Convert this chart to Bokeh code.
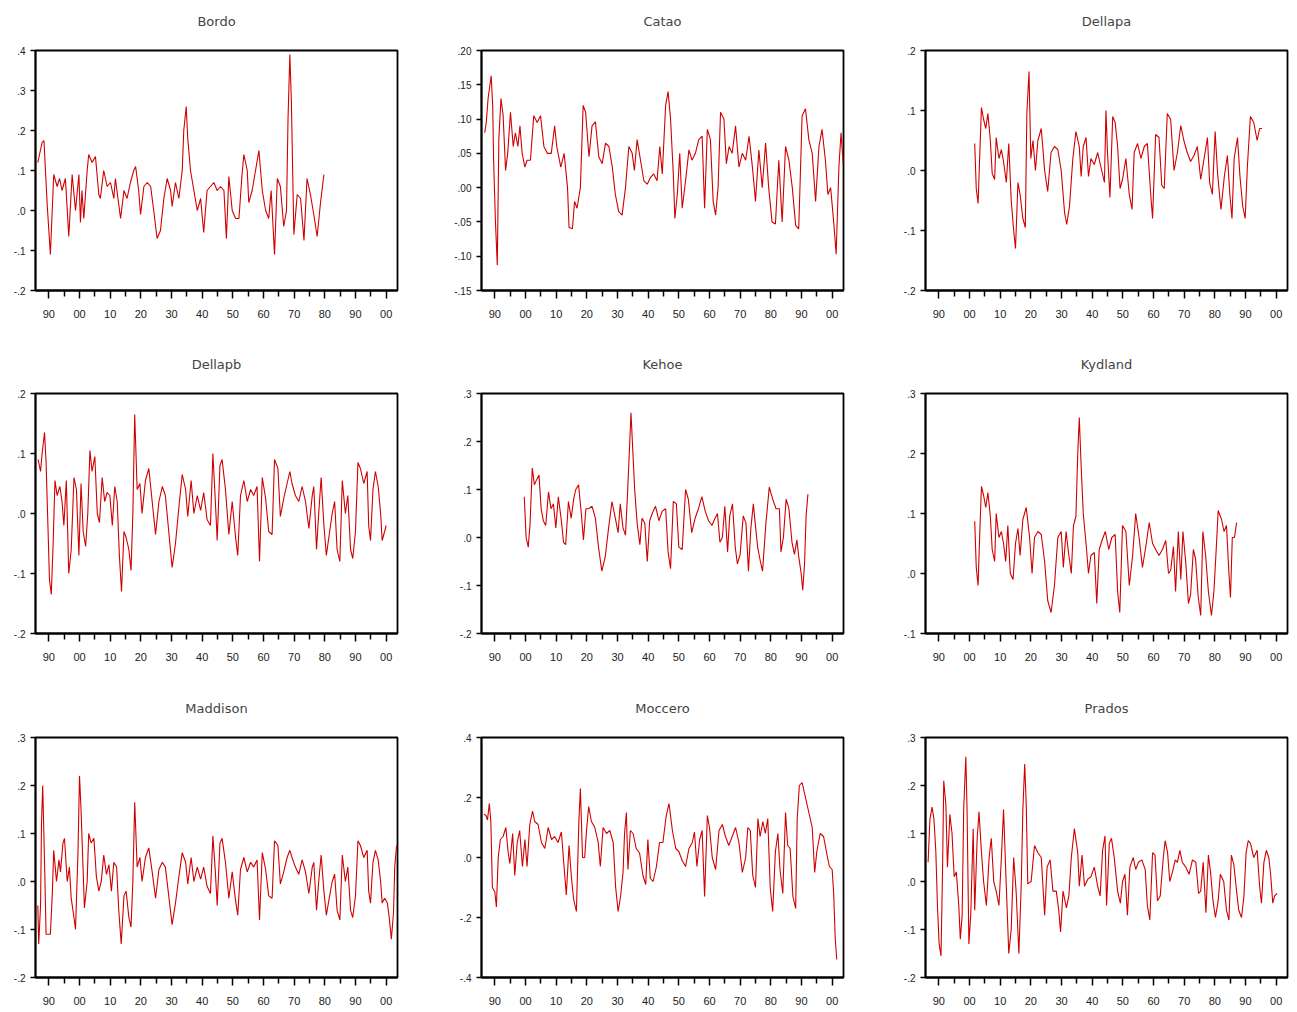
from bokeh.plotting import figure
from bokeh.models import Range1d, FixedTicker, CustomJSTickFormatter, LinearAxis
from bokeh.layouts import gridplot
from bokeh.embed import file_html
from bokeh.resources import INLINE

# values (year, growth rate)
bordo_x = [1886.4, 1887.8, 1888.4, 1889.5, 1890.5, 1891.6, 1892.7, 1893.5, 1894.3, 1895.4,
           1896.5, 1897.6, 1898.7, 1899.8, 1900.3, 1900.8, 1901.4, 1902.5, 1903.0, 1904.1,
           1905.2, 1906.3, 1906.8, 1907.9, 1909.0, 1910.1, 1911.2, 1911.7, 1913.4, 1914.5,
           1915.5, 1916.6, 1917.7, 1918.3, 1919.3, 1919.9, 1921.0, 1922.1, 1923.2, 1924.2,
           1925.3, 1926.4, 1927.5, 1928.6, 1929.7, 1930.2, 1931.3, 1932.4, 1933.5, 1934.0,
           1934.8, 1935.3, 1936.2, 1937.3, 1938.4, 1939.5, 1940.5, 1941.6, 1942.7, 1943.8,
           1944.9, 1946.0, 1947.1, 1947.9, 1948.7, 1949.8, 1950.9, 1952.0, 1953.0, 1953.6,
           1954.7, 1955.2, 1956.3, 1957.4, 1958.5, 1959.6, 1960.7, 1961.7, 1962.5, 1963.6,
           1964.5, 1965.5, 1966.6, 1967.5, 1968.0, 1968.6, 1969.1, 1969.9, 1971.0, 1972.1,
           1973.2, 1974.2, 1975.3, 1976.4, 1977.5, 1978.6, 1979.7]
bordo_y = [0.12, 0.17, 0.175, 0.01, -0.11, 0.09, 0.06, 0.08, 0.05, 0.08,
           -0.065, 0.09, 0.0, 0.09, -0.03, 0.05, -0.02, 0.10, 0.14, 0.12,
           0.135, 0.04, 0.03, 0.10, 0.06, 0.07, 0.03, 0.08, -0.02, 0.05,
           0.03, 0.07, 0.10, 0.11, 0.05, -0.01, 0.06, 0.07, 0.06, 0.0,
           -0.07, -0.05, 0.03, 0.08, 0.05, 0.01, 0.07, 0.03, 0.10, 0.20,
           0.26, 0.18, 0.10, 0.05, 0.0, 0.03, -0.055, 0.05, 0.06, 0.07,
           0.05, 0.06, 0.05, -0.07, 0.085, 0.0, -0.02, -0.02, 0.09, 0.14,
           0.10, 0.02, 0.05, 0.10, 0.15, 0.05, 0.0, -0.02, 0.05, -0.11,
           0.08, 0.06, -0.04, 0.0, 0.23, 0.39, 0.27, -0.06, 0.04, 0.03,
           -0.075, 0.08, 0.04, -0.01, -0.065, 0.02, 0.09]

catao_x = [1886.7, 1887.2, 1887.8, 1888.4, 1888.8, 1889.3, 1889.6, 1890.2, 1890.8, 1891.3,
           1892.0, 1892.7, 1893.5, 1894.2, 1895.1, 1896.0, 1896.7, 1897.5, 1898.2, 1898.9,
           1899.8, 1900.5, 1901.6, 1902.7, 1903.8, 1904.9, 1906.0, 1907.1, 1908.4, 1909.5,
           1910.2, 1911.5, 1912.6, 1913.7, 1914.2, 1915.3, 1916.0, 1916.8, 1917.9, 1918.8,
           1919.6, 1920.7, 1921.7, 1922.8, 1923.9, 1925.0, 1926.1, 1927.2, 1928.3, 1929.3,
           1930.4, 1931.5, 1932.6, 1933.7, 1934.8, 1935.5, 1936.4, 1937.5, 1938.6, 1939.7,
           1940.8, 1941.8, 1942.9, 1943.8, 1944.6, 1945.7, 1946.5, 1947.3, 1948.2, 1948.7,
           1949.5, 1950.3, 1951.1, 1952.2, 1953.3, 1954.3, 1955.4, 1956.5, 1957.6, 1958.4,
           1959.3, 1960.3, 1961.2, 1962.0, 1962.8, 1963.6, 1964.7, 1965.5, 1966.4, 1967.4,
           1968.5, 1969.6, 1970.7, 1971.8, 1972.9, 1974.0, 1975.0, 1976.1, 1977.2, 1978.3,
           1979.3, 1980.4, 1981.5, 1982.6, 1983.7, 1984.8, 1985.9, 1987.0, 1988.1, 1989.1,
           1990.2, 1991.3, 1992.4, 1993.5, 1994.6, 1995.7, 1996.7, 1997.8, 1998.6, 1999.5,
           2000.5, 2001.3, 2002.2, 2002.9, 2003.6]
catao_y = [0.08, 0.095, 0.13, 0.15, 0.163, 0.12, 0.04, -0.05, -0.113, 0.07,
           0.13, 0.105, 0.025, 0.05, 0.11, 0.06, 0.08, 0.06, 0.09, 0.05,
           0.03, 0.04, 0.04, 0.105, 0.095, 0.105, 0.06, 0.05, 0.05, 0.09,
           0.06, 0.03, 0.05, 0.0, -0.058, -0.06, -0.02, -0.03, 0.0, 0.12,
           0.11, 0.045, 0.09, 0.096, 0.045, 0.035, 0.065, 0.06, 0.03, -0.01,
           -0.035, -0.04, 0.0, 0.06, 0.05, 0.025, 0.07, 0.04, 0.01, 0.005,
           0.015, 0.02, 0.01, 0.06, 0.02, 0.12, 0.14, 0.10, 0.02, -0.045,
           -0.01, 0.05, -0.03, 0.01, 0.055, 0.04, 0.05, 0.07, 0.075, -0.03,
           0.085, 0.07, -0.02, -0.04, 0.0, 0.11, 0.10, 0.035, 0.06, 0.05,
           0.09, 0.03, 0.05, 0.04, 0.075, 0.03, -0.02, 0.055, 0.0, 0.065,
           0.0, -0.05, -0.053, 0.04, -0.05, 0.06, 0.04, 0.0, -0.055, -0.06,
           0.105, 0.115, 0.07, 0.05, -0.02, 0.06, 0.085, 0.04, -0.01, 0.0,
           -0.05, -0.097, 0.03, 0.08, 0.035]

dellapa_x = [1901.7, 1902.2, 1902.8, 1903.3, 1903.9, 1904.6, 1905.3, 1906.0, 1906.8, 1907.4,
             1908.2, 1908.7, 1909.6, 1910.4, 1911.1, 1912.0, 1912.8, 1913.6, 1914.4, 1915.0,
             1915.8, 1916.5, 1917.4, 1918.2, 1918.7, 1919.4, 1920.0, 1920.7, 1921.5, 1922.3,
             1923.4, 1924.5, 1925.5, 1926.6, 1927.7, 1928.8, 1929.9, 1931.0, 1931.7, 1932.6,
             1933.7, 1934.7, 1935.8, 1936.4, 1937.1, 1938.0, 1938.8, 1939.6, 1940.7, 1941.8,
             1942.9, 1944.0, 1944.5, 1945.0, 1945.8, 1946.7, 1947.5, 1948.3, 1949.1, 1949.9,
             1951.0, 1952.1, 1953.0, 1953.7, 1954.8, 1955.9, 1957.0, 1958.0, 1959.1, 1959.7,
             1960.7, 1961.8, 1962.7, 1963.5, 1964.5, 1965.6, 1966.7, 1967.8, 1968.9, 1969.9,
             1971.0, 1972.1, 1973.2, 1974.3, 1975.4, 1976.5, 1977.6, 1978.3, 1979.2, 1980.1,
             1980.9, 1982.0, 1983.1, 1984.1, 1984.9, 1985.6, 1986.3, 1987.4, 1988.2, 1989.1,
             1989.9, 1990.6, 1991.6, 1992.7, 1993.8, 1994.6, 1995.4]
dellapa_y = [0.045, -0.03, -0.055, 0.02, 0.105, 0.085, 0.07, 0.095, 0.05, -0.005,
             -0.015, 0.055, 0.02, 0.035, 0.015, -0.02, 0.045, -0.05, -0.10, -0.13,
             -0.02, -0.04, -0.08, -0.095, 0.095, 0.165, 0.02, 0.05, 0.0, 0.05,
             0.07, 0.0, -0.035, 0.03, 0.04, 0.035, 0.0, -0.07, -0.09, -0.06,
             0.02, 0.065, 0.04, -0.01, 0.04, 0.055, -0.01, 0.02, 0.01, 0.03,
             0.005, -0.02, 0.10, 0.03, -0.045, 0.09, 0.08, 0.04, -0.03, -0.015,
             0.02, -0.04, -0.065, 0.03, 0.045, 0.02, 0.04, 0.045, -0.04, -0.08,
             0.06, 0.055, -0.025, -0.03, 0.095, 0.085, 0.0, 0.03, 0.075, 0.05,
             0.03, 0.015, 0.025, 0.04, -0.015, 0.02, 0.055, -0.02, -0.04, 0.065,
             -0.005, -0.065, -0.01, 0.025, -0.04, -0.08, 0.02, 0.055, -0.01, -0.06,
             -0.08, 0.005, 0.09, 0.08, 0.05, 0.07, 0.07]

dellapb_x = [1886.5, 1887.3, 1887.8, 1888.6, 1889.1, 1889.7, 1890.2, 1890.8, 1891.4, 1892.0,
             1892.7, 1893.6, 1894.3, 1894.9, 1895.7, 1896.5, 1897.3, 1898.2, 1899.0, 1899.8,
             1900.5, 1901.2, 1902.0, 1902.7, 1903.4, 1904.1, 1905.0, 1905.8, 1906.5, 1907.4,
             1908.2, 1909.0, 1909.9, 1910.7, 1911.5, 1912.3, 1913.0, 1913.7, 1914.5, 1915.2,
             1916.1, 1916.8, 1917.4, 1918.0, 1918.8, 1919.7, 1920.4, 1921.5, 1922.6, 1923.7,
             1924.8, 1925.9, 1927.0, 1928.0, 1929.1, 1930.2, 1931.3, 1932.4, 1933.5, 1934.6,
             1935.3, 1936.4, 1937.3, 1938.4, 1939.5, 1940.5, 1941.6, 1942.7, 1943.5, 1944.3,
             1944.9, 1945.8, 1946.5, 1947.6, 1948.7, 1949.8, 1950.9, 1951.6, 1952.5, 1953.6,
             1954.7, 1955.8, 1956.8, 1957.9, 1958.7, 1959.6, 1960.7, 1961.7, 1962.8, 1963.6,
             1964.7, 1965.5, 1966.6, 1967.7, 1968.6, 1969.3, 1970.4, 1971.5, 1972.6, 1973.7,
             1974.8, 1975.9, 1976.4, 1977.3, 1978.0, 1978.8, 1979.7, 1980.5, 1981.3, 1982.4,
             1983.2, 1984.0, 1984.9, 1985.7, 1986.7, 1987.5, 1988.4, 1989.1, 1990.0, 1990.8,
             1991.6, 1992.7, 1993.8, 1994.3, 1994.9, 1995.7, 1996.5, 1997.4, 1998.2, 1998.7,
             1999.5, 2000.0]
dellapb_y = [0.09, 0.07, 0.10, 0.135, 0.085, -0.02, -0.11, -0.135, -0.05, 0.055,
             0.03, 0.045, 0.02, -0.02, 0.055, -0.10, -0.06, 0.06, 0.04, -0.07,
             0.05, -0.03, -0.055, 0.0, 0.105, 0.07, 0.095, 0.0, -0.015, 0.06,
             0.02, 0.035, 0.03, -0.02, 0.045, 0.02, -0.07, -0.13, -0.03, -0.04,
             -0.06, -0.095, 0.0, 0.165, 0.04, 0.05, 0.0, 0.055, 0.075, 0.02,
             -0.035, 0.02, 0.045, 0.03, -0.03, -0.09, -0.05, 0.01, 0.065, 0.04,
             -0.005, 0.055, 0.0, 0.03, 0.005, 0.035, -0.01, -0.02, 0.10, 0.02,
             -0.045, 0.08, 0.09, 0.04, -0.035, 0.02, -0.04, -0.07, 0.03, 0.055,
             0.02, 0.04, 0.03, 0.045, -0.08, 0.06, 0.025, -0.03, -0.035, 0.09,
             0.075, -0.005, 0.025, 0.05, 0.07, 0.05, 0.03, 0.02, 0.045, 0.02,
             -0.025, 0.03, 0.045, -0.06, 0.0, 0.06, -0.02, -0.07, -0.04, 0.0,
             0.02, -0.06, -0.08, 0.055, 0.0, 0.03, -0.06, -0.075, -0.03, 0.085,
             0.075, 0.05, 0.07, -0.02, -0.045, 0.04, 0.07, 0.045, 0.0, -0.045,
             -0.03, -0.02]

kehoe_x = [1899.6, 1900.2, 1900.9, 1901.5, 1902.2, 1902.9, 1903.6, 1904.4, 1905.1, 1905.8,
           1906.6, 1907.5, 1908.3, 1909.1, 1909.9, 1910.7, 1911.6, 1912.4, 1913.1, 1914.0,
           1914.9, 1915.7, 1916.4, 1917.3, 1918.2, 1918.9, 1919.7, 1920.6, 1921.7, 1922.8,
           1923.8, 1924.9, 1926.0, 1927.1, 1928.2, 1929.3, 1930.2, 1930.9, 1931.8, 1932.6,
           1933.3, 1934.0, 1934.4, 1935.0, 1935.6, 1936.4, 1937.3, 1938.0, 1938.9, 1939.7,
           1940.5, 1941.3, 1942.4, 1943.5, 1944.6, 1945.7, 1946.5, 1947.3, 1948.2, 1949.2,
           1950.0, 1951.1, 1952.2, 1953.1, 1954.2, 1955.3, 1956.4, 1957.5, 1958.6, 1959.7,
           1960.8, 1961.8, 1962.6, 1963.4, 1964.2, 1965.0, 1965.9, 1966.6, 1967.5, 1968.4,
           1969.1, 1970.0, 1971.0, 1971.9, 1972.7, 1973.5, 1974.3, 1974.9, 1975.7, 1976.6,
           1977.3, 1978.4, 1979.5, 1980.6, 1981.7, 1982.8, 1983.3, 1984.1, 1985.0, 1985.9,
           1986.9, 1987.7, 1988.5, 1989.1, 1989.9, 1990.4, 1991.0, 1991.5, 1992.1]
kehoe_y = [0.085, 0.0, -0.02, 0.03, 0.145, 0.11, 0.12, 0.13, 0.06, 0.035,
           0.025, 0.095, 0.06, 0.07, 0.02, 0.085, 0.04, -0.01, -0.015, 0.075,
           0.04, 0.08, 0.10, 0.11, 0.05, -0.005, 0.06, 0.06, 0.065, 0.04,
           -0.02, -0.07, -0.04, 0.02, 0.075, 0.04, 0.01, 0.07, 0.02, 0.005,
           0.095, 0.20, 0.26, 0.18, 0.10, 0.03, -0.015, 0.04, 0.03, -0.05,
           0.035, 0.05, 0.065, 0.035, 0.055, 0.06, -0.03, -0.065, 0.075, 0.07,
           -0.02, -0.025, 0.10, 0.08, 0.01, 0.04, 0.06, 0.085, 0.055, 0.035,
           0.025, 0.04, 0.05, -0.01, 0.0, 0.065, -0.03, 0.045, 0.07, -0.02,
           -0.055, -0.035, 0.045, 0.03, -0.07, 0.02, 0.07, 0.03, -0.02, -0.05,
           -0.07, 0.03, 0.105, 0.08, 0.06, 0.06, -0.03, 0.0, 0.08, 0.06,
           -0.01, -0.035, -0.005, -0.04, -0.075, -0.11, -0.055, 0.045, 0.09]

kydland_x = [1901.7, 1902.2, 1902.8, 1903.3, 1903.9, 1904.6, 1905.3, 1906.0, 1906.8, 1907.4,
             1908.2, 1908.7, 1909.6, 1910.4, 1911.1, 1911.8, 1912.5, 1913.3, 1914.2, 1915.0,
             1915.8, 1916.5, 1917.4, 1918.5, 1919.6, 1920.4, 1921.2, 1922.3, 1923.4, 1924.5,
             1925.5, 1926.6, 1927.7, 1928.8, 1929.9, 1930.6, 1931.5, 1932.4, 1933.2, 1933.9,
             1934.7, 1935.3, 1935.8, 1936.4, 1937.1, 1938.0, 1938.8, 1939.6, 1940.7, 1941.5,
             1942.3, 1943.2, 1944.3, 1945.4, 1946.4, 1947.5, 1948.3, 1949.0, 1949.9, 1951.0,
             1952.1, 1953.2, 1954.2, 1955.3, 1956.4, 1957.5, 1958.6, 1959.7, 1960.7, 1961.8,
             1962.9, 1964.0, 1964.9, 1965.6, 1966.5, 1967.2, 1968.1, 1968.9, 1969.6, 1970.5,
             1971.4, 1972.1, 1973.0, 1973.7, 1974.6, 1975.4, 1976.1, 1977.0, 1977.9, 1978.9,
             1979.7, 1980.5, 1981.1, 1982.2, 1983.0, 1983.8, 1984.6, 1985.1, 1985.7, 1986.4,
             1987.1]
kydland_y = [0.087, 0.01, -0.02, 0.06, 0.145, 0.13, 0.11, 0.135, 0.095, 0.04,
             0.02, 0.10, 0.06, 0.07, 0.05, 0.02, 0.08, 0.0, -0.01, 0.05,
             0.075, 0.03, 0.09, 0.11, 0.06, 0.0, 0.06, 0.07, 0.065, 0.02,
             -0.045, -0.065, -0.02, 0.06, 0.07, 0.01, 0.07, 0.03, 0.0, 0.08,
             0.095, 0.20, 0.26, 0.18, 0.10, 0.05, 0.0, 0.03, 0.035, -0.05,
             0.04, 0.055, 0.07, 0.04, 0.06, 0.065, -0.03, -0.065, 0.08, 0.07,
             -0.02, 0.03, 0.10, 0.06, 0.01, 0.045, 0.085, 0.05, 0.04, 0.03,
             0.04, 0.055, 0.0, 0.005, 0.045, -0.03, 0.07, -0.01, 0.07, 0.02,
             -0.05, -0.035, 0.04, 0.025, -0.04, -0.07, 0.07, 0.03, -0.03, -0.07,
             -0.03, 0.045, 0.105, 0.09, 0.07, 0.08, 0.0, -0.04, 0.06, 0.06,
             0.085]

maddison_x = [1886.4, 1886.7, 1887.3, 1887.6, 1888.0, 1888.6, 1889.1, 1890.0, 1890.5, 1891.1,
              1891.6, 1892.5, 1893.3, 1893.8, 1894.6, 1895.1, 1896.0, 1896.7, 1897.3, 1898.2,
              1898.7, 1899.5, 1900.0, 1900.5, 1901.2, 1901.6, 1902.5, 1903.0, 1903.8, 1904.7,
              1905.5, 1906.3, 1907.1, 1907.9, 1908.8, 1909.6, 1910.4, 1911.2, 1912.1, 1912.8,
              1913.6, 1914.5, 1915.2, 1916.1, 1916.8, 1917.4, 1918.0, 1918.8, 1919.7, 1920.4,
              1921.5, 1922.6, 1923.7, 1924.8, 1925.9, 1927.0, 1928.0, 1929.1, 1930.2, 1931.3,
              1932.4, 1933.5, 1934.6, 1935.3, 1936.4, 1937.3, 1938.4, 1939.5, 1940.5, 1941.6,
              1942.7, 1943.5, 1944.3, 1944.9, 1945.8, 1946.5, 1947.6, 1948.7, 1949.8, 1950.9,
              1951.6, 1952.5, 1953.6, 1954.7, 1955.8, 1956.8, 1957.9, 1958.7, 1959.6, 1960.7,
              1961.7, 1962.8, 1963.6, 1964.7, 1965.5, 1966.6, 1967.7, 1968.6, 1969.3, 1970.4,
              1971.5, 1972.6, 1973.7, 1974.8, 1975.9, 1976.4, 1977.3, 1978.0, 1978.8, 1979.7,
              1980.5, 1981.3, 1982.4, 1983.2, 1984.0, 1984.9, 1985.7, 1986.7, 1987.5, 1988.4,
              1989.1, 1990.0, 1990.8, 1991.6, 1992.7, 1993.8, 1994.3, 1994.9, 1995.7, 1996.5,
              1997.4, 1998.2, 1998.7, 1999.5, 2000.4, 2001.0, 2001.7, 2002.4, 2002.8, 2003.4]
maddison_y = [-0.05, -0.13, -0.05, 0.12, 0.20, 0.04, -0.11, -0.11, -0.11, -0.03,
              0.065, 0.0, 0.045, 0.02, 0.08, 0.09, 0.0, 0.03, -0.035, -0.075,
              -0.10, 0.06, 0.22, 0.15, 0.02, -0.055, 0.0, 0.10, 0.08, 0.09,
              0.01, -0.02, 0.0, 0.055, 0.015, 0.035, -0.02, 0.04, 0.03, -0.06,
              -0.13, -0.03, -0.02, -0.075, -0.095, 0.0, 0.165, 0.03, 0.05, 0.0,
              0.05, 0.07, 0.02, -0.035, 0.025, 0.04, 0.03, -0.03, -0.09, -0.045,
              0.01, 0.06, 0.04, -0.005, 0.05, 0.0, 0.03, 0.005, 0.03, -0.01,
              -0.025, 0.095, 0.02, -0.05, 0.08, 0.09, 0.04, -0.035, 0.02, -0.04,
              -0.07, 0.025, 0.05, 0.02, 0.04, 0.03, 0.045, -0.08, 0.06, 0.025,
              -0.03, -0.035, 0.085, 0.075, -0.005, 0.02, 0.05, 0.065, 0.05, 0.03,
              0.015, 0.045, 0.02, -0.025, 0.03, 0.04, -0.06, 0.0, 0.055, -0.02,
              -0.07, -0.04, 0.0, 0.015, -0.06, -0.08, 0.055, 0.0, 0.03, -0.06,
              -0.075, -0.03, 0.085, 0.075, 0.05, 0.065, -0.02, -0.045, 0.04, 0.065,
              0.045, 0.0, -0.045, -0.035, -0.045, -0.075, -0.12, -0.065, 0.03, 0.075]

moccero_x = [1886.5, 1887.1, 1887.6, 1888.2, 1888.7, 1889.2, 1890.0, 1890.5, 1891.1, 1891.8,
             1892.7, 1893.6, 1894.3, 1894.9, 1895.8, 1896.5, 1897.3, 1898.1, 1899.0, 1899.8,
             1900.5, 1901.4, 1902.3, 1903.0, 1904.1, 1905.2, 1906.3, 1907.4, 1908.5, 1909.5,
             1910.6, 1911.7, 1912.8, 1913.3, 1914.2, 1915.0, 1915.7, 1916.6, 1917.4, 1917.9,
             1918.6, 1919.3, 1919.9, 1920.6, 1921.5, 1922.6, 1923.7, 1924.4, 1925.3, 1926.4,
             1927.5, 1928.6, 1929.4, 1930.2, 1931.0, 1931.8, 1932.3, 1932.9, 1933.4, 1934.2,
             1935.1, 1936.1, 1937.2, 1938.3, 1939.2, 1939.9, 1940.7, 1941.6, 1942.7, 1943.7,
             1944.8, 1945.9, 1946.8, 1947.9, 1949.0, 1950.0, 1951.1, 1952.2, 1953.3, 1954.4,
             1955.1, 1955.9, 1956.8, 1957.6, 1958.4, 1959.3, 1960.0, 1960.9, 1962.0, 1963.1,
             1964.2, 1965.2, 1966.3, 1967.4, 1968.5, 1969.6, 1970.7, 1971.8, 1972.5, 1973.3,
             1974.1, 1975.0, 1975.8, 1976.5, 1977.4, 1978.2, 1979.0, 1979.8, 1980.6, 1981.5,
             1982.3, 1983.0, 1983.9, 1984.8, 1985.5, 1986.3, 1987.2, 1988.1, 1988.6, 1989.3,
             1990.2, 1991.3, 1992.4, 1993.5, 1994.3, 1995.0, 1996.1, 1997.2, 1998.3, 1999.1,
             2000.0, 2000.5, 2001.0, 2001.5]
moccero_y = [0.145, 0.14, 0.125, 0.18, 0.12, -0.10, -0.115, -0.165, 0.0, 0.06,
             0.07, 0.10, 0.02, -0.02, 0.08, -0.06, 0.05, 0.09, -0.03, 0.06,
             -0.03, 0.11, 0.155, 0.12, 0.11, 0.05, 0.03, 0.10, 0.06, 0.07,
             0.05, 0.085, -0.06, -0.125, 0.04, -0.07, -0.14, -0.18, 0.12, 0.23,
             0.0, 0.0, 0.09, 0.17, 0.12, 0.10, 0.05, -0.03, 0.10, 0.08,
             0.09, 0.05, -0.10, -0.18, -0.13, -0.05, 0.08, 0.15, -0.04, 0.09,
             0.08, 0.03, 0.015, -0.06, -0.09, 0.06, -0.07, -0.08, -0.03, 0.05,
             0.05, 0.14, 0.18, 0.09, 0.03, 0.02, -0.01, -0.03, 0.03, 0.05,
             0.085, -0.03, 0.06, 0.09, -0.13, 0.14, 0.10, 0.0, -0.04, 0.09,
             0.11, 0.07, 0.04, 0.07, 0.10, 0.05, -0.05, 0.0, 0.10, 0.09,
             -0.06, -0.10, 0.13, 0.07, 0.12, 0.08, 0.13, -0.10, -0.18, 0.02,
             0.08, -0.04, -0.12, 0.15, 0.04, 0.03, -0.13, -0.17, 0.13, 0.24,
             0.25, 0.20, 0.15, 0.10, -0.05, 0.02, 0.08, 0.07, 0.01, -0.03,
             -0.04, -0.12, -0.27, -0.34]

prados_x = [1886.5, 1887.1, 1887.8, 1888.4, 1889.0, 1889.6, 1890.1, 1890.7, 1891.2, 1891.6,
            1892.3, 1892.8, 1893.6, 1894.3, 1895.0, 1895.7, 1896.5, 1897.0, 1897.6, 1898.1,
            1898.8, 1899.2, 1899.8, 1900.4, 1901.2, 1901.7, 1902.5, 1903.1, 1903.9, 1904.6,
            1905.5, 1906.4, 1907.1, 1907.9, 1908.7, 1909.6, 1910.4, 1911.1, 1912.0, 1912.8,
            1913.6, 1914.4, 1915.2, 1916.1, 1916.9, 1917.4, 1918.0, 1918.5, 1919.0, 1920.1,
            1921.2, 1922.3, 1923.4, 1924.5, 1925.3, 1926.3, 1927.2, 1928.3, 1929.1, 1929.7,
            1930.5, 1931.6, 1932.4, 1933.2, 1934.2, 1935.3, 1935.8, 1936.7, 1937.5, 1938.6,
            1939.6, 1940.7, 1941.8, 1942.6, 1943.4, 1944.2, 1944.7, 1945.6, 1946.3, 1947.2,
            1948.3, 1949.2, 1949.9, 1950.7, 1951.5, 1952.3, 1953.4, 1954.2, 1955.1, 1956.2,
            1957.3, 1958.0, 1958.8, 1959.7, 1960.5, 1961.3, 1962.2, 1963.2, 1963.8, 1964.6,
            1965.3, 1966.2, 1967.1, 1967.8, 1968.6, 1969.4, 1970.5, 1971.6, 1972.7, 1973.8,
            1974.7, 1975.4, 1976.2, 1977.1, 1977.9, 1978.6, 1979.4, 1980.2, 1981.1, 1981.8,
            1982.9, 1983.8, 1984.6, 1985.4, 1986.2, 1987.1, 1987.8, 1988.7, 1989.5, 1990.2,
            1990.9, 1991.6, 1992.7, 1993.8, 1994.6, 1995.2, 1996.0, 1996.8, 1997.6, 1998.2,
            1998.9, 1999.5, 2000.3]
prados_y = [0.04, 0.13, 0.155, 0.13, 0.065, -0.06, -0.13, -0.155, 0.02, 0.21,
            0.16, 0.03, 0.14, 0.10, 0.01, 0.02, -0.05, -0.12, -0.07, 0.15,
            0.26, 0.15, -0.13, -0.07, 0.11, -0.06, 0.09, 0.145, 0.06, 0.0,
            -0.05, 0.05, 0.09, 0.0, -0.02, -0.05, 0.05, 0.15, -0.01, -0.15,
            -0.10, 0.05, -0.02, -0.15, 0.0, 0.15, 0.245, 0.16, -0.005, 0.0,
            0.075, 0.06, 0.05, -0.07, 0.03, 0.045, -0.02, -0.02, -0.06, -0.105,
            -0.02, -0.055, -0.03, 0.05, 0.11, 0.06, -0.01, 0.055, -0.01, 0.005,
            0.01, 0.03, -0.01, -0.03, 0.065, 0.095, -0.05, 0.08, 0.09, 0.05,
            -0.02, -0.045, 0.0, 0.015, -0.07, 0.03, 0.05, 0.025, 0.04, 0.045,
            0.025, -0.05, -0.08, 0.06, 0.055, -0.04, -0.03, 0.05, 0.085, 0.06,
            0.0, 0.02, 0.045, 0.04, 0.065, 0.04, 0.03, 0.015, 0.045, 0.04,
            -0.025, -0.02, 0.04, -0.065, 0.055, 0.02, -0.04, -0.075, -0.04, 0.015,
            0.0, -0.06, -0.08, 0.055, 0.035, -0.02, -0.06, -0.075, -0.03, 0.06,
            0.085, 0.08, 0.05, 0.065, -0.01, -0.045, 0.04, 0.065, 0.05, 0.015,
            -0.045, -0.03, -0.025]

titles = ["Bordo", "Catao", "Dellapa", "Dellapb", "Kehoe", "Kydland",
          "Maddison", "Moccero", "Prados"]
xs = [bordo_x, catao_x, dellapa_x, dellapb_x, kehoe_x, kydland_x,
      maddison_x, moccero_x, prados_x]
ys = [bordo_y, catao_y, dellapa_y, dellapb_y, kehoe_y, kydland_y,
      maddison_y, moccero_y, prados_y]
# y axis: low, high, step, decimals
y_axes = [(-0.2, 0.4, 0.1, 1), (-0.15, 0.20, 0.05, 2), (-0.2, 0.2, 0.1, 1),
          (-0.2, 0.2, 0.1, 1), (-0.2, 0.3, 0.1, 1), (-0.1, 0.3, 0.1, 1),
          (-0.2, 0.3, 0.1, 1), (-0.4, 0.4, 0.2, 1), (-0.2, 0.3, 0.1, 1)]
year_ticks = list(range(1890, 2001, 10))
year_minor = list(range(1895, 2000, 10))

FONT = "Liberation Sans"
TITLE_FONT = "DejaVu Sans"
left_pad = [35, 35, 35]
right_pad = [49, 47, 5]
top_pad = [50, 42, 42]
bottom_pad = [61, 62, 28]

plots = []
for i, name in enumerate(titles):
    r, c = divmod(i, 3)
    assert len(xs[i]) == len(ys[i]), name
    lo, hi, step, nd = y_axes[i]
    n = int(round((hi - lo) / step))
    yt = [round(lo + k * step, 4) for k in range(n + 1)]

    p = figure(frame_width=362, frame_height=240,
               x_range=Range1d(1885.65, 2003.7), y_range=Range1d(lo, hi),
               output_backend="svg", toolbar_location=None,
               min_border_left=left_pad[c], min_border_right=right_pad[c],
               min_border_top=top_pad[r], min_border_bottom=bottom_pad[r])
    p.line(xs[i], ys[i], line_color="#d00000", line_width=1.1)

    # panel name: label of a bare axis above the box, so it sits ~29px up
    head = LinearAxis(ticker=FixedTicker(ticks=[]), axis_line_color=None,
                      major_tick_line_color=None, minor_tick_line_color=None,
                      major_tick_in=0, major_tick_out=0, minor_tick_in=0,
                      minor_tick_out=0, major_label_text_font_size="0px",
                      axis_label=name, axis_label_standoff=22,
                      axis_label_text_font=TITLE_FONT,
                      axis_label_text_font_size="13px",
                      axis_label_text_font_style="normal",
                      axis_label_text_color="#444444")
    p.add_layout(head, "above")

    p.grid.visible = False
    p.outline_line_color = "black"
    p.outline_line_alpha = 1
    p.outline_line_width = 1.8
    p.background_fill_color = "white"

    bottom = p.below[0]
    bottom.ticker = FixedTicker(ticks=year_ticks, minor_ticks=year_minor)
    bottom.major_label_overrides = {t: f"{t % 100:02d}" for t in year_ticks}
    bottom.major_tick_in = 0
    bottom.major_tick_out = 8
    bottom.minor_tick_in = 0
    bottom.minor_tick_out = 6
    bottom.major_label_standoff = 11

    left = p.left[0]
    left.ticker = FixedTicker(ticks=yt, minor_ticks=[])
    left.formatter = CustomJSTickFormatter(
        code="return tick.toFixed(%d).replace('0.', '.');" % nd)
    left.major_tick_in = 0
    left.major_tick_out = 5
    left.major_label_standoff = 5

    for ax in (bottom, left):
        ax.axis_line_width = 1.8
        ax.major_tick_line_width = 1.5
        ax.minor_tick_line_width = 1.5
        ax.major_label_text_font = FONT
        ax.major_label_text_font_size = "11px"
        ax.major_label_text_color = "#222222"
    left.major_label_text_font_size = "10px"

    plots.append(p)

grid = gridplot([plots[0:3], plots[3:6], plots[6:9]], toolbar_location=None)

open("out.html", "w").write(file_html(grid, INLINE))
